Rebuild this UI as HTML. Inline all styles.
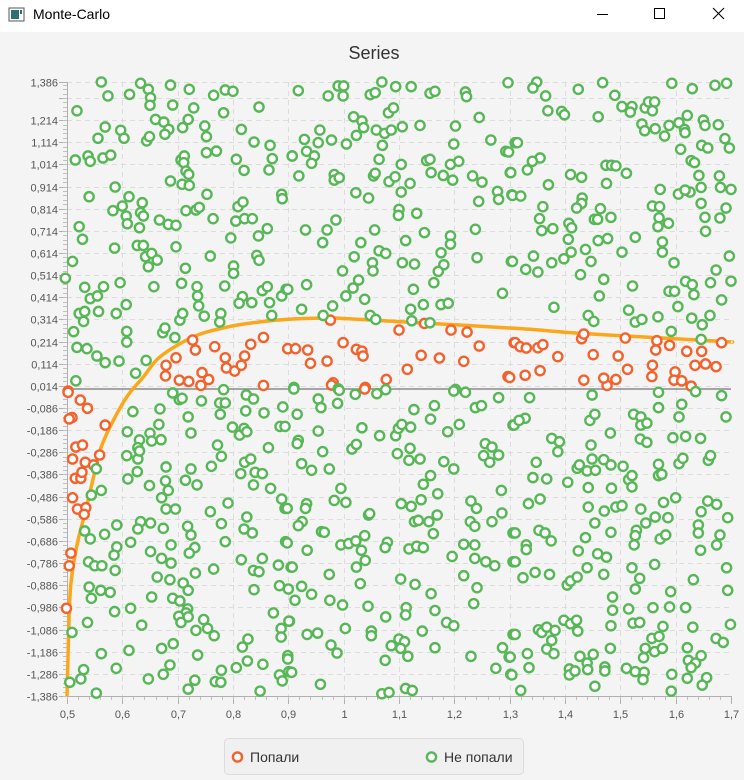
<!DOCTYPE html>
<html><head><meta charset="utf-8">
<style>
html,body{margin:0;padding:0;width:744px;height:780px;overflow:hidden;background:#f4f4f4;font-family:"Liberation Sans","DejaVu Sans",sans-serif;}
#titlebar{position:absolute;left:0;top:0;width:744px;height:32px;background:#fff;}
#title{position:absolute;left:33px;top:6px;font-size:14px;color:#000;}
#chart{position:absolute;left:0;top:0;}
</style></head><body>
<div id="titlebar">
  <svg width="744" height="32" style="position:absolute;left:0;top:0">
    <g>
      <rect x="9" y="8" width="15" height="13" fill="#fff" stroke="#555" stroke-width="1"/>
      <rect x="11" y="10" width="8" height="9" fill="#2f6f74"/>
      <rect x="20" y="10" width="2" height="4" fill="#2f6f74"/>
    </g>
    <line x1="597" y1="14.5" x2="608" y2="14.5" stroke="#000" stroke-width="1"/>
    <rect x="654.5" y="8.5" width="10" height="10" fill="none" stroke="#000" stroke-width="1"/>
    <g stroke="#000" stroke-width="1.1">
      <line x1="713" y1="8" x2="724" y2="19"/><line x1="724" y1="8" x2="713" y2="19"/>
    </g>
  </svg>
  <div id="title">Monte-Carlo</div>
</div>
<svg id="chart" width="744" height="780" xmlns="http://www.w3.org/2000/svg" style="top:0">
  <text x="374" y="59" text-anchor="middle" font-size="18" fill="#333" font-family="Liberation Sans, sans-serif">Series</text>
  <g id="grid"></g>
  <g id="axes"></g>
  <g id="curve"></g>
  <g id="pts"></g>
  <g>
    <rect x="224.5" y="738.5" width="299" height="36" rx="4" fill="#f0f0f0" stroke="#dcdcdc"/>
    <g>
      <circle cx="237.5" cy="757" r="4.6" fill="#fff" stroke="#f3622d" stroke-width="2.4"/>
      <text x="250" y="762" font-size="14" fill="#333">Попали</text>
    </g>
    <g>
      <circle cx="431.5" cy="757" r="4.6" fill="#fff" stroke="#57b757" stroke-width="2.4"/>
      <text x="444" y="762" font-size="14" fill="#333">Не попали</text>
    </g>
  </g>
</svg>
<script>
const xMin=0.5, xMax=1.7, yMin=-1.386, yMax=1.386;
const xTicks=[0.5,0.6,0.7,0.8,0.9,1.0,1.1,1.2,1.3,1.4,1.5,1.6,1.7];
const xTickLabels=["0,5","0,6","0,7","0,8","0,9","1","1,1","1,2","1,3","1,4","1,5","1,6","1,7"];
const yTicks=[-1.386,-1.286,-1.186,-1.086,-0.986,-0.886,-0.786,-0.686,-0.586,-0.486,-0.386,-0.286,-0.186,-0.086,0.014,0.114,0.214,0.314,0.414,0.514,0.614,0.714,0.814,0.914,1.014,1.114,1.214,1.314,1.386];
const yTickLabels=["-1,386","-1,286","-1,186","-1,086","-0,986","-0,886","-0,786","-0,686","-0,586","-0,486","-0,386","-0,286","-0,186","-0,086","0,014","0,114","0,214","0,314","0,414","0,514","0,614","0,714","0,814","0,914","1,014","1,114","1,214","","1,386"];
const curveX=[0.5,0.505,0.511,0.52,0.5325,0.548,0.56,0.578,0.608,0.638,0.668,0.728,0.79,0.849,0.894,0.957,0.996,1.135,1.31,1.43,1.563,1.69,1.7];
const curveY=[-1.386,-0.953,-0.804,-0.682,-0.56,-0.397,-0.275,-0.17,-0.036,0.054,0.145,0.235,0.28,0.303,0.314,0.32,0.319,0.299,0.274,0.251,0.232,0.214,0.212];
const hits=[[.727,.221],[.732,.176],[.767,.191],[.697,.141],[.679,.107],[.678,.059],[.703,.040],[.720,.034],[.744,.074],[.742,.016],[.756,.043],[.786,.141],[.788,.095],[.803,.081],[.815,.107],[.821,.149],[.832,.202],[.855,.233],[.899,.182],[.502,-.009],[.855,.016],
[.976,.311],[1.100,.266],[1.146,.296],[1.194,.266],[1.223,.257],[1.245,.194],[1.308,.209],[.899,.182],[.913,.182],[.935,.176],[.940,.116],[.970,.126],[.999,.209],[1.023,.179],[1.033,.171],[1.035,.149],[1.115,.089],[1.140,.152],[1.173,.140],[1.217,.125],[1.077,.043],[1.039,.007],[.981,.028],[1.297,.056],
[1.310,.209],[1.319,.191],[1.330,.185],[1.351,.186],[1.360,.200],[1.387,.146],[1.430,.227],[1.434,.248],[1.451,.155],[1.496,.149],[1.509,.230],[1.513,.089],[1.558,.107],[1.557,.056],[1.564,.176],[1.566,.218],[1.589,.197],[1.599,.077],[1.597,.040],[1.611,.037],[1.620,.170],[1.647,.170],[1.635,.107],[1.654,.113],[1.673,.101],[1.683,.209],[1.628,.013],[1.476,.016],[1.470,.049],[1.492,.043],[1.434,.040],[1.328,.062],[1.355,.083],[1.300,.052],
[.502,-.015],[.524,-.050],[.537,-.087],[.509,-.129],[.504,-.135],[.569,-.163],[.516,-.262],[.528,-.253],[.510,-.316],[.533,-.331],[.548,-.343],[.559,-.298],[.515,-.403],[.525,-.403],[.510,-.491],[.519,-.542],[.534,-.536],[.531,-.566],[.507,-.741],[.504,-.798],[.499,-.990],[.527,-.376],[.978,.018],[1.038,0.0]];
const missesTopLeft=[[.562,1.386],[.574,1.323],[.613,1.330],[.633,1.380],[.647,1.353],[.651,1.315],[.650,1.281],[.687,1.372],[.721,1.353],[.765,1.326],[.786,1.350],[.800,1.344],[.847,1.273],[.518,1.256],[.691,1.282],[.729,1.269],[.783,1.247],[.569,1.183],[.556,1.132],[.597,1.168],[.603,1.132],[.644,1.120],[.649,1.139],[.660,1.217],[.675,1.205],[.684,1.172],[.677,1.150],[.709,1.180],[.719,1.217],[.749,1.187],[.752,1.139],[.815,1.172],[.838,1.115],[.867,1.100],[.515,1.034],[.538,1.052],[.542,1.028],[.565,1.043],[.579,1.056],[.706,1.034],[.712,1.052],[.711,1.022],[.715,.984],[.720,.969],[.752,1.067],[.770,1.074],[.806,1.037],[.820,.987],[.871,1.040],[.865,.989],[.907,1.052],[.687,.939],[.708,.924],[.721,.919],[.587,.912],[.540,.868],[.612,.868],[.600,.826],[.583,.805],[.607,.781],[.609,.746],[.631,.728],[.633,.796],[.636,.841],[.638,.781],[.667,.763],[.683,.743],[.697,.739],[.715,.805],[.733,.808],[.739,.820],[.753,.879],[.764,.769],[.805,.758],[.809,.823],[.818,.844],[.821,.769],[.835,.769],[.888,.879],[.889,.859],[.522,.733],[.528,.676],[.586,.636],[.627,.648],[.638,.648],[.642,.597],[.653,.612],[.663,.582],[.647,.552],[.697,.642],[.714,.545],[.759,.600],[.796,.682],[.846,.691],[.862,.724],[.843,.603],[.847,.581],[.801,.555],[.801,.522],[.510,.576],[.532,.459],[.566,.462],[.542,.408],[.555,.420],[.596,.480],[.657,.462],[.707,.477],[.735,.462],[.736,.420],[.738,.375],[.785,.465],[.817,.417],[.811,.387],[.834,.390],[.853,.444],[.862,.462],[.866,.390],[.870,.332],[.888,.420],[.896,.450],[.522,.341],[.532,.350],[.530,.305],[.512,.259],[.557,.350],[.589,.341],[.607,.381],[.608,.260],[.608,.212],[.518,.188],[.536,.182],[.554,.149],[.569,.119],[.594,.126],[.643,.129],[.624,.071],[.516,.037],[.673,.254],[.677,.275],[.695,.232],[.704,.311],[.709,.341],[.748,.329],[.778,.341],[.776,.302],[.497,.500]];
const missesTopMid=[[.918,1.347],[.972,1.323],[.990,1.368],[1.000,1.368],[.999,1.323],[1.048,1.329],[1.057,1.338],[1.069,1.386],[1.094,1.365],[1.122,1.365],[1.156,1.335],[1.165,1.344],[1.220,1.341],[1.222,1.320],[1.297,1.383],[1.081,1.247],[1.090,1.269],[1.018,1.229],[1.033,1.210],[1.036,1.180],[1.023,1.145],[.957,1.169],[.929,1.127],[.954,1.112],[.978,1.124],[1.005,1.106],[.907,1.052],[.933,1.073],[.947,1.052],[.942,1.019],[1.059,1.169],[1.074,1.154],[1.086,1.169],[1.106,1.184],[1.138,1.190],[1.070,1.100],[1.064,1.037],[1.202,1.187],[1.199,1.106],[1.245,1.226],[1.266,1.124],[1.293,1.073],[1.310,1.112],[.919,.962],[.983,.968],[.983,.943],[.992,.954],[1.054,.962],[1.057,.974],[1.082,.936],[1.093,.958],[1.104,1.014],[1.104,.889],[1.120,.928],[1.150,1.031],[1.156,1.037],[1.158,.977],[1.180,.964],[1.193,1.014],[1.208,1.028],[1.197,.943],[1.233,.962],[1.250,.934],[1.301,.977],[1.278,.892],[1.280,.856],[1.304,.877],[1.244,.847],[1.022,.886],[1.045,.862],[1.100,.811],[1.099,.784],[1.132,.793],[.931,.718],[.970,.718],[.986,.763],[.962,.661],[1.031,.661],[1.056,.718],[1.064,.624],[1.076,.612],[1.019,.597],[1.112,.670],[1.146,.706],[1.193,.691],[1.193,.654],[1.176,.615],[1.181,.561],[1.171,.531],[1.163,.480],[1.106,.570],[1.128,.564],[1.052,.570],[1.053,.533],[.998,.533],[1.027,.492],[1.017,.456],[1.004,.420],[1.038,.405],[.933,.471],[.899,.450],[.924,.360],[.980,.375],[.963,.332],[1.048,.332],[1.058,.314],[1.121,.360],[1.123,.308],[1.144,.381],[1.176,.381],[1.189,.387],[1.156,.299],[1.126,.450],[1.238,.721],[1.241,.593],[1.303,.576],[1.287,.432],[.910,.007],[.990,.001],[1.202,-.002]];
const missesTopRight=[[1.349,1.386],[1.342,1.359],[1.365,1.323],[1.424,1.353],[1.468,1.383],[1.490,1.326],[1.503,1.275],[1.521,1.275],[1.518,1.250],[1.545,1.269],[1.551,1.296],[1.562,1.296],[1.558,1.256],[1.593,1.380],[1.630,1.356],[1.671,1.371],[1.692,1.380],[1.369,1.256],[1.394,1.253],[1.399,1.238],[1.460,1.229],[1.539,1.196],[1.544,1.166],[1.563,1.175],[1.580,1.142],[1.588,1.190],[1.606,1.202],[1.616,1.172],[1.617,1.157],[1.621,1.235],[1.650,1.214],[1.653,1.190],[1.677,1.193],[1.689,1.130],[1.697,1.088],[1.647,1.100],[1.658,1.088],[1.609,1.082],[1.628,1.031],[1.634,1.022],[1.642,.964],[1.679,.962],[1.681,.910],[1.700,.901],[1.646,.910],[1.626,.889],[1.605,.880],[1.617,.898],[1.572,.901],[1.314,1.112],[1.298,1.070],[1.355,1.043],[1.341,1.028],[1.332,.989],[1.302,.977],[1.370,.922],[1.410,.968],[1.430,.956],[1.474,1.010],[1.484,1.010],[1.492,1.007],[1.511,.974],[1.475,.928],[1.305,.874],[1.320,.871],[1.360,.823],[1.354,.769],[1.358,.715],[1.378,.724],[1.407,.748],[1.412,.728],[1.406,.676],[1.431,.862],[1.430,.838],[1.421,.817],[1.453,.766],[1.459,.766],[1.464,.814],[1.483,.775],[1.460,.670],[1.477,.679],[1.527,.685],[1.558,.826],[1.571,.823],[1.570,.773],[1.568,.733],[1.587,.748],[1.646,.838],[1.653,.775],[1.654,.712],[1.680,.772],[1.691,.817],[1.576,.664],[1.576,.618],[1.597,.570],[1.503,.618],[1.437,.630],[1.447,.576],[1.411,.618],[1.398,.588],[1.376,.570],[1.343,.600],[1.329,.540],[1.351,.528],[1.305,.576],[1.428,.516],[1.470,.495],[1.462,.420],[1.522,.465],[1.380,.369],[1.442,.332],[1.452,.305],[1.515,.356],[1.527,.302],[1.539,.314],[1.568,.326],[1.592,.260],[1.604,.372],[1.588,.441],[1.598,.441],[1.618,.486],[1.630,.471],[1.633,.426],[1.663,.480],[1.673,.537],[1.683,.402],[1.697,.600],[1.700,.487],[1.629,.320],[1.648,.290],[1.662,.332],[1.646,.224]];
const missesBottomLeft=[[.619,-.102],[.668,-.090],[.609,-.193],[.631,-.230],[.650,-.200],[.666,-.160],[.670,-.229],[.653,-.235],[.628,-.265],[.608,-.301],[.628,-.316],[.631,-.280],[.627,-.373],[.610,-.406],[.649,-.436],[.679,-.352],[.678,-.415],[.683,-.458],[.671,-.491],[.679,-.542],[.696,-.542],[.724,-.361],[.714,-.412],[.735,-.433],[.724,-.199],[.719,-.126],[.691,-.018],[.703,-.048],[.708,-.042],[.743,-.054],[.783,-.003],[.776,-.063],[.786,-.063],[.777,-.114],[.824,-.027],[.837,-.045],[.823,-.099],[.856,-.108],[.890,-.081],[.885,-.169],[.799,-.172],[.812,-.208],[.820,-.178],[.825,-.193],[.772,-.253],[.779,-.304],[.761,-.349],[.814,-.382],[.821,-.331],[.832,-.316],[.840,-.376],[.853,-.382],[.837,-.433],[.864,-.265],[.868,-.449],[.888,-.497],[.894,-.539],[.791,-.515],[.759,-.554],[.825,-.578],[.820,-.632],[.835,-.650],[.779,-.608],[.786,-.689],[.562,-.458],[.544,-.479],[.532,-.641],[.542,-.677],[.568,-.656],[.590,-.614],[.633,-.599],[.628,-.632],[.651,-.605],[.674,-.629],[.615,-.692],[.590,-.713],[.585,-.750],[.587,-.819],[.539,-.780],[.550,-.798],[.563,-.798],[.651,-.734],[.671,-.765],[.688,-.704],[.688,-.786],[.718,-.620],[.724,-.659],[.731,-.716],[.721,-.741],[.732,-.831],[.765,-.813],[.815,-.771],[.853,-.765],[.837,-.819],[.847,-.825],[.882,-.795],[.905,-.804],[.895,-.689],[.663,-.849],[.686,-.861],[.710,-.876],[.719,-.909],[.540,-.894],[.544,-.945],[.561,-.909],[.578,-.918],[.653,-.939],[.691,-.945],[.704,-.957],[.718,-.993],[.715,-1.011],[.702,-1.026],[.706,-1.054],[.719,-1.029],[.747,-1.041],[.754,-1.081],[.733,-1.090],[.766,-1.114],[.586,-1.005],[.615,-.990],[.635,-1.066],[.537,-1.054],[.509,-1.099],[.838,-.906],[.884,-.888],[.873,-1.011],[.887,-1.081],[.887,-1.120],[.902,-1.048],[.562,-1.195],[.612,-1.180],[.671,-1.171],[.692,-1.150],[.736,-1.201],[.817,-1.165],[.827,-1.129],[.826,-1.228],[.854,-1.243],[.899,-1.216],[.901,-1.276],[.884,-1.291],[.889,-1.318],[.530,-1.267],[.525,-1.309],[.505,-1.324],[.553,-1.373],[.589,-1.261],[.647,-1.309],[.674,-1.288],[.686,-1.246],[.731,-1.315],[.719,-1.355],[.779,-1.270],[.768,-1.321],[.778,-1.324],[.806,-1.258],[.849,-1.364],[.553,-.360]];
const missesBottomMid=[[.910,0],[.954,-.045],[.959,-.084],[.989,-.065],[.992,-.006],[1.021,-.024],[1.060,-.021],[1.076,-.003],[.916,-.114],[.894,-.169],[.954,-.190],[.918,-.232],[.916,-.247],[.962,-.283],[.924,-.337],[.942,-.367],[.974,-.361],[1.015,-.271],[1.023,-.250],[1.033,-.175],[1.065,-.211],[1.094,-.211],[1.099,-.178],[1.105,-.160],[1.121,-.172],[1.127,-.093],[1.157,-.136],[1.164,-.075],[1.188,-.193],[1.209,-.160],[1.199,-.009],[1.220,-.015],[1.238,-.084],[1.249,-.075],[1.280,-.039],[1.306,-.163],[1.097,-.292],[1.120,-.268],[1.118,-.322],[1.138,-.316],[1.181,-.328],[1.199,-.361],[1.157,-.391],[1.144,-.430],[1.170,-.473],[1.140,-.500],[1.122,-.530],[1.104,-.518],[1.256,-.247],[1.268,-.262],[1.280,-.298],[1.253,-.301],[1.264,-.331],[1.285,-.458],[1.230,-.506],[1.240,-.539],[1.286,-.560],[1.268,-.599],[1.229,-.599],[1.237,-.620],[1.306,-.650],[.995,-.449],[.983,-.503],[1.004,-.512],[.933,-.518],[.931,-.539],[.898,-.539],[.925,-.599],[.918,-.617],[.960,-.644],[.965,-.647],[1.045,-.569],[1.047,-.563],[1.128,-.599],[1.135,-.593],[1.154,-.599],[1.169,-.569],[1.162,-.653],[.898,-.695],[.934,-.728],[.995,-.704],[1.009,-.698],[1.022,-.686],[1.038,-.662],[1.032,-.728],[1.039,-.774],[1.023,-.804],[1.079,-.692],[1.075,-.716],[1.118,-.722],[1.132,-.710],[1.144,-.716],[1.196,-.756],[1.217,-.701],[1.237,-.704],[1.237,-.765],[1.257,-.780],[1.273,-.798],[1.306,-.780],[.907,-.804],[.974,-.837],[1.030,-.879],[1.103,-.858],[1.129,-.882],[1.158,-.924],[1.217,-.843],[1.241,-.897],[1.235,-.969],[.900,-.903],[.924,-.891],[.942,-.927],[.912,-.954],[.975,-.954],[.998,-.975],[1.044,-.981],[1.076,-1.029],[1.113,-.987],[1.112,-1.020],[1.165,-1.000],[1.186,-1.054],[1.199,-1.069],[1.142,-1.093],[.901,-1.048],[.934,-1.108],[.953,-1.102],[1.003,-1.081],[1.050,-1.093],[1.050,-1.114],[.977,-1.156],[.988,-1.192],[1.086,-1.159],[1.100,-1.129],[1.110,-1.141],[1.103,-1.171],[1.116,-1.207],[1.075,-1.225],[1.165,-1.168],[1.230,-1.207],[1.287,-1.168],[1.299,-1.210],[1.275,-1.261],[1.302,-1.288],[1.306,-1.108],[.899,-1.204],[.899,-1.219],[.906,-1.279],[.958,-1.333],[1.069,-1.376],[1.082,-1.370],[1.112,-1.352],[1.124,-1.361]];
const missesBottomRight=[[1.336,-.039],[1.449,-.027],[1.569,-.015],[1.569,-.084],[1.611,-.069],[1.606,-.126],[1.636,-.012],[1.683,-.030],[1.691,-.126],[1.308,-.163],[1.328,-.132],[1.317,-.142],[1.445,-.142],[1.454,-.114],[1.524,-.114],[1.537,-.126],[1.537,-.163],[1.548,-.154],[1.482,-.199],[1.376,-.223],[1.390,-.238],[1.387,-.283],[1.447,-.253],[1.536,-.226],[1.548,-.241],[1.595,-.220],[1.618,-.214],[1.645,-.223],[1.348,-.331],[1.342,-.400],[1.367,-.406],[1.405,-.421],[1.422,-.358],[1.426,-.343],[1.440,-.370],[1.449,-.316],[1.455,-.367],[1.470,-.319],[1.483,-.343],[1.505,-.349],[1.515,-.409],[1.521,-.391],[1.521,-.442],[1.442,-.445],[1.484,-.448],[1.569,-.340],[1.569,-.391],[1.575,-.385],[1.606,-.337],[1.613,-.313],[1.659,-.322],[1.663,-.301],[1.334,-.518],[1.355,-.497],[1.442,-.533],[1.471,-.551],[1.492,-.533],[1.503,-.527],[1.537,-.542],[1.578,-.512],[1.600,-.491],[1.658,-.506],[1.674,-.521],[1.646,-.554],[1.694,-.581],[1.310,-.650],[1.330,-.704],[1.330,-.725],[1.353,-.638],[1.364,-.650],[1.375,-.686],[1.454,-.605],[1.437,-.671],[1.483,-.647],[1.529,-.638],[1.527,-.662],[1.525,-.704],[1.546,-.605],[1.563,-.578],[1.586,-.581],[1.572,-.677],[1.582,-.659],[1.641,-.614],[1.641,-.650],[1.680,-.659],[1.674,-.704],[1.645,-.728],[1.310,-.780],[1.324,-.852],[1.346,-.828],[1.372,-.837],[1.404,-.885],[1.410,-.867],[1.422,-.849],[1.440,-.807],[1.424,-.731],[1.459,-.744],[1.475,-.759],[1.470,-.837],[1.521,-.807],[1.535,-.855],[1.527,-.903],[1.562,-.792],[1.632,-.861],[1.692,-.807],[1.694,-.909],[1.591,-.915],[1.486,-.939],[1.486,-.999],[1.515,-.993],[1.559,-.987],[1.589,-.984],[1.618,-.987],[1.483,-1.069],[1.523,-1.057],[1.535,-1.054],[1.577,-1.072],[1.631,-1.075],[1.699,-1.063],[1.310,-1.108],[1.352,-1.087],[1.358,-1.099],[1.367,-1.075],[1.382,-1.090],[1.398,-1.044],[1.410,-1.060],[1.421,-1.044],[1.423,-1.093],[1.376,-1.135],[1.367,-1.174],[1.380,-1.195],[1.332,-1.195],[1.301,-1.210],[1.335,-1.258],[1.304,-1.291],[1.320,-1.361],[1.427,-1.207],[1.451,-1.198],[1.440,-1.237],[1.441,-1.267],[1.408,-1.264],[1.408,-1.291],[1.418,-1.273],[1.472,-1.255],[1.472,-1.273],[1.482,-1.171],[1.454,-1.342],[1.511,-1.261],[1.527,-1.276],[1.543,-1.279],[1.541,-1.312],[1.542,-1.213],[1.545,-1.171],[1.562,-1.186],[1.557,-1.126],[1.570,-1.117],[1.576,-1.171],[1.621,-1.168],[1.623,-1.225],[1.636,-1.237],[1.628,-1.258],[1.646,-1.204],[1.621,-1.306],[1.656,-1.303],[1.648,-1.337],[1.593,-1.288],[1.592,-1.364],[1.673,-1.126],[1.686,-1.144]];

const PL=67, PR=731, PT=82, PB=696;
function sx(v){return PL+(v-xMin)/(xMax-xMin)*(PR-PL);}
function sy(v){return PB-(v-yMin)/(yMax-yMin)*(PB-PT);}
const NS="http://www.w3.org/2000/svg";
function mk(tag,attrs,parent){const e=document.createElementNS(NS,tag);for(const k in attrs)e.setAttribute(k,attrs[k]);parent.appendChild(e);return e;}
const grid=document.getElementById('grid'), axes=document.getElementById('axes');




xTicks.forEach((t,i)=>{
  const x=Math.round(sx(t))+0.5;
  if(i>0&&i<xTicks.length-1){const g=mk('line',{x1:x,y1:PT,x2:x,y2:PB,stroke:'#dcdcdc','stroke-dasharray':'5,4','stroke-width':1},grid);
  
  }
  const tk=mk('line',{x1:x,y1:PB,x2:x,y2:PB+8,stroke:'#b0b0b0'},axes);
  
  
  const lb=mk('text',{x:x,y:PB+22,'text-anchor':'middle','font-size':11,fill:'#555'},axes);
  lb.textContent=xTickLabels[i];
  
  
});
for(let v=xMin;v<xMax-1e-6;v+=0.02){const x=Math.round(sx(v))+0.5;mk('line',{x1:x,y1:PB,x2:x,y2:PB+4,stroke:'#c0c0c0'},axes);}
yTicks.forEach((t,i)=>{
  const y=Math.round(sy(t))+0.5;
  if(i>0){const g=mk('line',{x1:PL,y1:y,x2:PR,y2:y,stroke:'#dcdcdc','stroke-dasharray':'5,4'},grid);
  
  }
  const tk=mk('line',{x1:PL-8,y1:y,x2:PL,y2:y,stroke:'#b0b0b0'},axes);
  
  
  if(yTickLabels[i]){const lb=mk('text',{x:PL-9,y:y+4,'text-anchor':'end','font-size':11,fill:'#555'},axes);
  lb.textContent=yTickLabels[i];
  
  }
});
for(let v=yMin;v<yMax;v+=0.02){const y=Math.round(sy(v))+0.5;mk('line',{x1:PL-4,y1:y,x2:PL,y2:y,stroke:'#c0c0c0'},axes);}
mk('line',{x1:PL+0.5,y1:PT,x2:PL+0.5,y2:PB,stroke:'#b0b0b0'},axes);
mk('line',{x1:PL,y1:PB+0.5,x2:PR,y2:PB+0.5,stroke:'#b0b0b0'},axes);
const zl=mk('line',{x1:PL,y1:sy(0),x2:PR,y2:sy(0),stroke:'#8a8a8a','stroke-width':1.5},grid);


// curve (Catmull-Rom)
const P=curveX.map((x,i)=>[sx(x),sy(curveY[i])]);
let d='M'+P[0][0]+','+P[0][1];
for(let i=0;i<P.length-1;i++){const p0=P[Math.max(0,i-1)],p1=P[i],p2=P[i+1],p3=P[Math.min(P.length-1,i+2)];
  d+=' C'+(p1[0]+(p2[0]-p0[0])/6)+','+(p1[1]+(p2[1]-p0[1])/6)+' '+(p2[0]-(p3[0]-p1[0])/6)+','+(p2[1]-(p3[1]-p1[1])/6)+' '+p2[0]+','+p2[1];}
const cv=mk('path',{d:d,fill:'none',stroke:'#fba71b','stroke-width':3.5,'stroke-linejoin':'round'},document.getElementById('curve'));


const pts=document.getElementById('pts');
function drawPts(arr,color,name){arr.forEach(p=>{const c=mk('circle',{cx:sx(p[0]),cy:sy(p[1]),r:4.6,fill:'#fff',stroke:color,'stroke-width':2.4},pts);
  
  });}
drawPts(hits,'#f3622d','hit-point');
[missesTopLeft,missesTopMid,missesTopRight,missesBottomLeft,missesBottomMid,missesBottomRight].forEach(a=>drawPts(a,'#57b757','miss-point'));
</script>
</body></html>
